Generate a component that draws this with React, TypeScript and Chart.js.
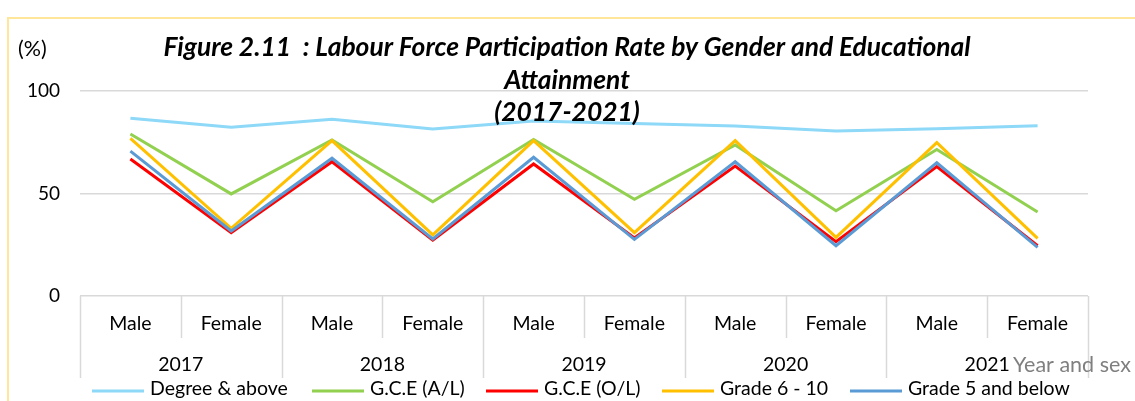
import React, { useEffect, useRef } from "react";
import { Chart, registerables } from "chart.js";

Chart.register(...registerables);

// ---------- data ----------
const years = ["2017", "2018", "2019", "2020", "2021"];
const sexLabels = ["Male", "Female", "Male", "Female", "Male", "Female", "Male", "Female", "Male", "Female"];
const yTicks = [0, 50, 100];

const seriesNames = ["Degree & above", "G.C.E (A/L)", "G.C.E (O/L)", "Grade 6 - 10", "Grade 5 and below"];
const seriesColors = ["#8ED8F8", "#92D050", "#FF0000", "#FFC000", "#5B9BD5"];

const degreeAbove = [86.7, 82.3, 86.2, 81.5, 85.4, 84.2, 82.9, 80.5, 81.6, 83.1];
const gceAL = [79.0, 49.8, 76.1, 46.0, 76.4, 47.2, 73.7, 41.6, 71.5, 41.0];
const gceOL = [66.8, 30.9, 65.5, 27.3, 64.4, 28.3, 63.4, 26.5, 63.1, 24.5];
const grade6to10 = [76.9, 33.0, 75.8, 29.8, 75.8, 30.9, 75.8, 28.6, 74.8, 28.1];
const grade5below = [70.7, 31.7, 67.2, 27.8, 67.7, 27.6, 65.5, 24.5, 65.0, 23.7];

const titleLines = ["Figure 2.11  : Labour Force Participation Rate by Gender and Educational", "Attainment", "(2017-2021)"];
const yAxisTitle = "(%)";
const xAxisTitle = "Year and sex";

const FONT = "Lato, 'Liberation Sans', sans-serif";
const legendStarts = [92, 312, 486, 662, 850];

const overlayPlugin = {
  id: "overlay",
  beforeDraw(chart: any) {
    const ctx = chart.ctx;
    ctx.save();
    ctx.strokeStyle = "#FFE699";
    ctx.lineWidth = 2;
    ctx.beginPath();
    ctx.moveTo(8, 2000);
    ctx.lineTo(8, 18);
    ctx.lineTo(3000, 18);
    ctx.stroke();
    ctx.restore();
  },
  afterDraw(chart: any) {
    const ctx = chart.ctx;
    const xs = chart.scales.x;
    const area = chart.chartArea;
    ctx.save();

    // category separators
    ctx.strokeStyle = "#D9D9D9";
    ctx.lineWidth = 1.5;
    for (let i = 0; i <= sexLabels.length; i++) {
      const px = Math.round(xs.getPixelForValue(i - 0.5)) + 0.5;
      const end = i % 2 === 0 ? 378 : 338;
      ctx.beginPath();
      ctx.moveTo(px, area.bottom);
      ctx.lineTo(px, end);
      ctx.stroke();
    }

    // year labels
    ctx.fillStyle = "#000000";
    ctx.font = `19.5px ${FONT}`;
    ctx.textAlign = "center";
    ctx.textBaseline = "middle";
    years.forEach((y, k) => {
      ctx.fillText(y, xs.getPixelForValue(2 * k + 0.5), 365);
    });

    // x axis title
    ctx.fillStyle = "#7F7F7F";
    ctx.textAlign = "left";
    ctx.font = `21.5px ${FONT}`;
    ctx.fillText(xAxisTitle, 1013, 365);

    // y axis title
    ctx.fillStyle = "#000000";
    ctx.textAlign = "left";
    ctx.font = `21.5px ${FONT}`;
    ctx.fillText(yAxisTitle, 18, 49);

    // chart title
    ctx.font = `italic bold 26.4px ${FONT}`;
    ctx.textAlign = "center";
    const tys = [47, 80, 112];
    titleLines.forEach((t, i) => ctx.fillText(t, 567, tys[i]));

    // legend
    ctx.font = `19.5px ${FONT}`;
    const lineLen = 52;
    const gap = 6;
    ctx.textAlign = "left";
    chart.data.datasets.forEach((d: any, i: number) => {
      const x = legendStarts[i];
      ctx.strokeStyle = d.borderColor;
      ctx.lineWidth = 3;
      ctx.beginPath();
      ctx.moveTo(x, 391);
      ctx.lineTo(x + lineLen, 391);
      ctx.stroke();
      ctx.fillStyle = "#000000";
      ctx.fillText(d.label, x + lineLen + gap, 389);
    });

    ctx.restore();
  },
};

export default function App() {
  const ref = useRef<HTMLCanvasElement>(null);
  useEffect(() => {
    if (!ref.current) return;
    const values = [degreeAbove, gceAL, gceOL, grade6to10, grade5below];
    const chart = new Chart(ref.current, {
      type: "line",
      data: {
        labels: sexLabels,
        datasets: values.map((v, i) => ({
          label: seriesNames[i],
          data: v,
          borderColor: seriesColors[i],
          backgroundColor: seriesColors[i],
          borderWidth: 3,
          pointRadius: 0,
          tension: 0,
          fill: false,
          order: values.length - i,
        })),
      },
      options: {
        responsive: false,
        animation: false,
        layout: { padding: { left: 0, right: 47, top: 91, bottom: 0 } },
        plugins: {
          legend: { display: false },
          title: { display: false },
          tooltip: { enabled: false },
        },
        scales: {
          x: {
            type: "category",
            offset: true,
            grid: { display: false, drawTicks: false },
            border: { display: false },
            ticks: {
              color: "#000000",
              font: { family: FONT, size: 19.5 },
              padding: 16,
              maxRotation: 0,
              autoSkip: false,
            },
            afterFit: (s: any) => {
              s.height = 105;
            },
          },
          y: {
            min: 0,
            max: 100,
            afterBuildTicks: (s: any) => {
              s.ticks = yTicks.map((v) => ({ value: v }));
            },
            grid: { color: "#D9D9D9", lineWidth: 1.5, drawTicks: false },
            border: { display: false },
            ticks: {
              color: "#000000",
              font: { family: FONT, size: 19 },
              padding: 20,
            },
            afterFit: (s: any) => {
              s.width = 80;
            },
          },
        },
      },
      plugins: [overlayPlugin],
    });
    return () => chart.destroy();
  }, []);
  return (
    <div style={{ position: "absolute", left: 0, top: 0, width: 1135, height: 401 }}>
      <canvas ref={ref} width={1135} height={401} style={{ display: "block" }} />
    </div>
  );
}
